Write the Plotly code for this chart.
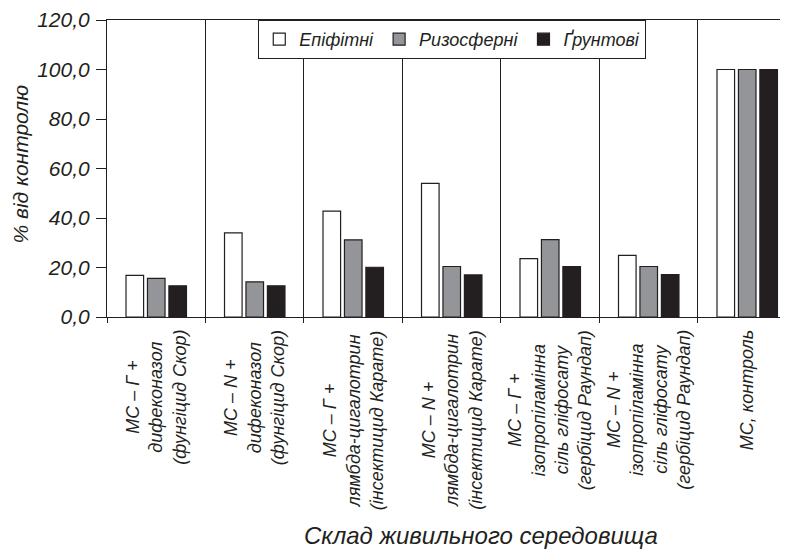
import plotly.graph_objects as go

categories = [
    "МС – Г +<br>дифеконазол<br>(фунгіцид Скор)",
    "МС – N +<br>дифеконазол<br>(фунгіцид Скор)",
    "МС – Г +<br>лямбда-цигалотрин<br>(інсектицид Карате)",
    "МС – N +<br>лямбда-цигалотрин<br>(інсектицид Карате)",
    "МС – Г +<br>ізопропіламінна<br>сіль гліфосату<br>(гербіцид Раундап)",
    "МС – N +<br>ізопропіламінна<br>сіль гліфосату<br>(гербіцид Раундап)",
    "МС, контроль",
]
series_names = ["Епіфітні", "Ризосферні", "Ґрунтові"]
epiphytic = [16.8, 34.0, 42.8, 54.0, 23.6, 24.9, 100.0]
rhizosphere = [15.6, 14.2, 31.2, 20.4, 31.3, 20.4, 100.0]
soil = [12.6, 12.6, 20.1, 17.0, 20.4, 17.1, 100.0]
series_values = [epiphytic, rhizosphere, soil]
series_colors = ["#ffffff", "#939598", "#231f20"]
y_title = "% від контролю"
x_title = "Склад живильного середовища"

ink = "#231f20"
font_family = "Liberation Sans, Arial, sans-serif"

fig = go.Figure()
for name, vals, col in zip(series_names, series_values, series_colors):
    fig.add_trace(go.Bar(
        x=categories, y=vals, name=name,
        marker=dict(color=col, line=dict(color=ink, width=1.2)),
    ))

for cat in categories:
    fig.add_annotation(
        x=cat, xref="x", y=0, yref="paper", yanchor="top", xanchor="center",
        yshift=-11, text=cat, textangle=-90, align="center", showarrow=False,
        font=dict(family=font_family, size=18, color=ink, style="italic"),
    )

fig.add_annotation(
    x=0.549, xref="paper", y=-0.737, yref="paper", xanchor="center", yanchor="middle",
    text=x_title, showarrow=False,
    font=dict(family=font_family, size=24, color=ink, style="italic"),
)
fig.add_annotation(
    x=-0.127, xref="paper", y=0.515, yref="paper", xanchor="center", yanchor="middle",
    text=y_title, textangle=-90, showarrow=False, borderpad=0,
    font=dict(family=font_family, size=21, color=ink, style="italic"),
)

fig.update_layout(
    width=780, height=544,
    margin=dict(l=99, r=0, t=9, b=235),
    paper_bgcolor="white", plot_bgcolor="white",
    separators=", ",
    barmode="group", bargap=0.347, bargroupgap=0.18,
    showlegend=True,
    legend=dict(
        orientation="h", x=0.507, xanchor="center", y=1.0, yanchor="top",
        bgcolor="white", bordercolor=ink, borderwidth=1,
        font=dict(family=font_family, size=18, color=ink, style="italic"),
        traceorder="normal",
    ),
    font=dict(family=font_family, color=ink),
)
fig.update_xaxes(
    range=[-0.5, 6.414], showline=True, linecolor=ink, linewidth=1.2, mirror=True,
    showticklabels=False, ticks="outside", ticklen=5, tickcolor=ink,
    tickson="boundaries", showgrid=True, gridcolor=ink, gridwidth=1,
)
fig.update_yaxes(
    range=[0, 120], dtick=20, tickformat=".1f", showline=True, linecolor=ink,
    linewidth=1.2, ticks="outside", ticklen=10, tickcolor=ink, showgrid=False,
    zeroline=False, ticklabeloverflow="allow", ticklabelstandoff=2,
    tickfont=dict(family=font_family, size=21, color=ink, style="italic"),
)

fig.write_html("out.html")
